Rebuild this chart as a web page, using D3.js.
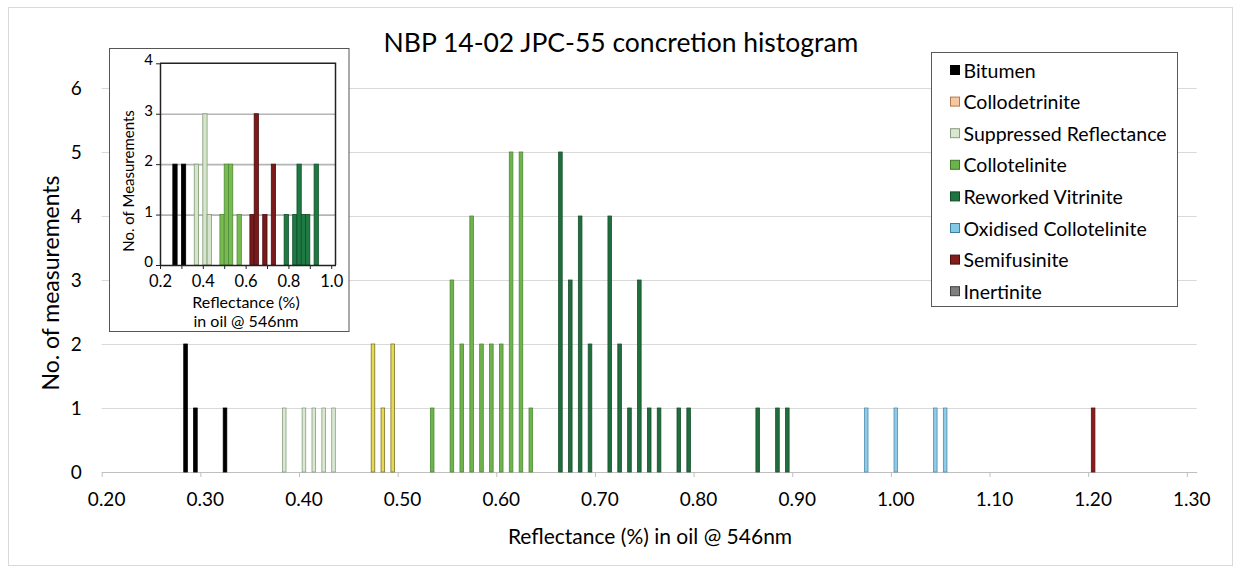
<!DOCTYPE html>
<html><head><meta charset="utf-8">
<script src="https://cdn.jsdelivr.net/npm/d3@7"></script>
<style>
body{margin:0;background:#fff}
svg{display:block}
text{font-family:Lato,"Open Sans",sans-serif;fill:#000}
</style>
</head><body>
<svg id="c" width="1236" height="573"></svg>
<script>
// ---------- main chart data (reflectance bin, count) ----------
const bitumenR = [0.28, 0.29, 0.32];
const bitumenN = [2, 1, 1];
const suppressedR = [0.38, 0.40, 0.41, 0.42, 0.43];
const suppressedN = [1, 1, 1, 1, 1];
const yellowR = [0.47, 0.48, 0.49];
const yellowN = [2, 1, 2];
const collotelR = [0.53, 0.55, 0.56, 0.57, 0.58, 0.59, 0.60, 0.61, 0.62, 0.63];
const collotelN = [1, 3, 2, 4, 2, 2, 2, 5, 5, 1];
const reworkedR = [0.66, 0.67, 0.68, 0.69, 0.71, 0.72, 0.73, 0.74, 0.75, 0.76, 0.78, 0.79, 0.86, 0.88, 0.89];
const reworkedN = [5, 3, 4, 2, 4, 2, 1, 3, 1, 1, 1, 1, 1, 1, 1];
const oxidisedR = [0.97, 1.00, 1.04, 1.05];
const oxidisedN = [1, 1, 1, 1];
const semifusR = [1.20];
const semifusN = [1];

const xTickLabels = ["0.20","0.30","0.40","0.50","0.60","0.70","0.80","0.90","1.00","1.10","1.20","1.30"];
const yTickLabels = [0, 1, 2, 3, 4, 5, 6];

// ---------- inset data ----------
const inBitumenR = [0.27, 0.31];
const inBitumenN = [2, 2];
const inSuppressedR = [0.37, 0.41, 0.43];
const inSuppressedN = [2, 3, 1];
const inCollotelR = [0.49, 0.51, 0.53, 0.57];
const inCollotelN = [1, 2, 2, 1];
const inSemifusR = [0.63, 0.65, 0.69, 0.73];
const inSemifusN = [1, 3, 1, 2];
const inReworkedR = [0.79, 0.83, 0.85, 0.87, 0.89, 0.93];
const inReworkedN = [1, 1, 2, 1, 1, 2];
const inXTicks = [0.2, 0.4, 0.6, 0.8, 1.0];
const inYTicks = [0, 1, 2, 3, 4];

// ---------- legend ----------
const legendNames = ["Bitumen","Collodetrinite","Suppressed Reflectance","Collotelinite","Reworked Vitrinite","Oxidised Collotelinite","Semifusinite","Inertinite"];
const legendFill = ["#000000","#f7c8a0","#d8e8cf","#6db24a","#1f7440","#83c8e4","#841c1c","#7f7f7f"];
const legendStroke = ["#000000","#b07850","#8a9a84","#3e7a2c","#0f4a26","#3d7f9e","#4a0c0c","#404040"];

const mainSeries = [
  {r: bitumenR, n: bitumenN, fill: "#000000", stroke: "#000000"},
  {r: suppressedR, n: suppressedN, fill: "#dae8d2", stroke: "#889e80"},
  {r: yellowR, n: yellowN, fill: "#e6da55", stroke: "#7a7228"},
  {r: collotelR, n: collotelN, fill: "#6fb34c", stroke: "#4d8a35"},
  {r: reworkedR, n: reworkedN, fill: "#206e3e", stroke: "#17502d"},
  {r: oxidisedR, n: oxidisedN, fill: "#8fcbe6", stroke: "#4f8fb0"},
  {r: semifusR, n: semifusN, fill: "#8a1c1c", stroke: "#5a1010"}
];
const insetSeries = [
  {r: inBitumenR, n: inBitumenN, fill: "#000000", stroke: "#000000"},
  {r: inSuppressedR, n: inSuppressedN, fill: "#d6e6cc", stroke: "#7f9a74"},
  {r: inCollotelR, n: inCollotelN, fill: "#78bb50", stroke: "#4f8a35"},
  {r: inSemifusR, n: inSemifusN, fill: "#7a1a1a", stroke: "#4a0d0d"},
  {r: inReworkedR, n: inReworkedN, fill: "#1e7a42", stroke: "#0f4f28"}
];

const svg = d3.select("#c");
svg.append("rect").attr("x",8.5).attr("y",7.5).attr("width",1224).attr("height",558)
  .attr("fill","#fff").attr("stroke","#d9d9d9");

// ---------- main scales ----------
const L = 101.7, R = 1196.7, T = 88, B = 472;
const cats = d3.range(111).map(i => ((20 + i) / 100).toFixed(2));
const x = d3.scaleBand().domain(cats).range([L, R]).padding(0);
const xEdge = d3.scaleLinear().domain([0.195, 1.305]).range([L, R]);
const y = d3.scaleLinear().domain([0, 6]).range([B, T]);

// gridlines
const grid = svg.append("g").attr("transform",`translate(${L},0)`)
  .call(d3.axisLeft(y).tickValues(yTickLabels.slice(1)).tickSize(-(R - L)).tickFormat(""));
grid.select(".domain").remove();
grid.selectAll("line").attr("stroke","#d9d9d9");

// y labels
const ya = svg.append("g").attr("transform",`translate(${L},0)`)
  .call(d3.axisLeft(y).tickValues(yTickLabels).tickFormat(d3.format("d")).tickSize(0).tickPadding(20));
ya.select(".domain").remove();
ya.selectAll("text").style("font-size","19px").attr("fill","#000");

// x axis line + ticks at category edges
const xt = svg.append("g").attr("transform",`translate(0,${B})`)
  .call(d3.axisBottom(xEdge).tickValues(d3.range(12).map(i => 0.195 + i * 0.1)).tickSize(5).tickFormat("").tickSizeOuter(0));
xt.select(".domain").attr("stroke","#bfbfbf");
xt.selectAll("line").attr("stroke","#bfbfbf");

// x labels at category centres
const xa = svg.append("g").attr("transform",`translate(0,${B})`)
  .call(d3.axisBottom(x).tickValues(xTickLabels).tickSize(0).tickPadding(21));
xa.select(".domain").remove();
xa.selectAll("text").style("font-size","19px").attr("fill","#000");

// bars
const bw = 3.6;
mainSeries.forEach(s => {
  svg.append("g").selectAll("rect").data(s.r.map((r, i) => ({k: r.toFixed(2), n: s.n[i]})))
    .join("rect")
    .attr("x", d => x(d.k) + x.bandwidth() / 2 - bw / 2)
    .attr("width", bw)
    .attr("y", d => y(d.n))
    .attr("height", d => y(0) - y(d.n))
    .attr("fill", s.fill).attr("stroke", s.stroke).attr("stroke-width", 0.8);
});

// titles
svg.append("text").attr("x",621).attr("y",42).attr("text-anchor","middle")
  .attr("dominant-baseline","central").style("font-size","26.5px")
  .text("NBP 14-02 JPC-55 concretion histogram");
svg.append("text").attr("transform","translate(50,283) rotate(-90)").attr("text-anchor","middle")
  .attr("dominant-baseline","central").style("font-size","23px").text("No. of measurements");
svg.append("text").attr("x",650).attr("y",535).attr("text-anchor","middle")
  .attr("dominant-baseline","central").style("font-size","21px").text("Reflectance (%) in oil @ 546nm");

// legend
const lg = svg.append("g");
lg.append("rect").attr("x",931.5).attr("y",52.5).attr("width",246).attr("height",254)
  .attr("fill","#fff").attr("stroke","#595959");
const li = lg.selectAll("g.it").data(legendNames).join("g").attr("class","it")
  .attr("transform",(d,i)=>`translate(950,${70 + i * 31.6})`);
li.append("rect").attr("x",0.5).attr("y",-4.5).attr("width",9).attr("height",9)
  .attr("fill",(d,i)=>legendFill[i]).attr("stroke",(d,i)=>legendStroke[i]);
li.append("text").attr("x",13.5).attr("y",0).attr("dominant-baseline","central")
  .style("font-size","19.5px").text(d=>d);

// ---------- inset ----------
const ins = svg.append("g");
ins.append("rect").attr("x",109.5).attr("y",48.5).attr("width",239.5).attr("height",283)
  .attr("fill","#fff").attr("stroke","#555");
const iL = 160, iR = 335.5, iT = 63.3, iB = 265;
const xi = d3.scaleLinear().domain([0.2, 1.02]).range([iL, iR]);
const yi = d3.scaleLinear().domain([0, 4]).range([iB, iT]);

const ig = ins.append("g").attr("transform",`translate(${iL},0)`)
  .call(d3.axisLeft(yi).tickValues([1,2,3]).tickSize(-(iR - iL)).tickFormat(""));
ig.select(".domain").remove();
ig.selectAll("line").attr("stroke","#b5b5b5").attr("stroke-width",1.6);

insetSeries.forEach(s => {
  ins.append("g").selectAll("rect").data(s.r.map((r, i) => ({r, n: s.n[i]})))
    .join("rect")
    .attr("x", d => xi(d.r - 0.01))
    .attr("width", d => xi(d.r + 0.01) - xi(d.r - 0.01))
    .attr("y", d => yi(d.n))
    .attr("height", d => yi(0) - yi(d.n))
    .attr("fill", s.fill).attr("stroke", s.stroke).attr("stroke-width", 0.8);
});

// plot border top/right
ins.append("path").attr("d",`M${iL},${iT}H${iR}V${iB}`).attr("fill","none").attr("stroke","#222").attr("stroke-width",1.5);

const iya = ins.append("g").attr("transform",`translate(${iL},0)`)
  .call(d3.axisLeft(yi).tickValues(inYTicks).tickFormat(d3.format("d")).tickSize(4).tickPadding(3).tickSizeOuter(0));
iya.select(".domain").attr("stroke","#222").attr("stroke-width",1.5);
iya.selectAll("line").attr("stroke","#222");
iya.selectAll("text").style("font-size","15px").attr("fill","#000").attr("dy","0.1em");

const ixa = ins.append("g").attr("transform",`translate(0,${iB})`)
  .call(d3.axisBottom(xi).tickValues(d3.range(9).map(i => 0.2 + i * 0.1)).tickSize(4).tickFormat("").tickSizeOuter(0));
ixa.select(".domain").attr("stroke","#222").attr("stroke-width",1.5);
ixa.selectAll("line").attr("stroke","#222");
const ixl = ins.append("g").attr("transform",`translate(0,${iB})`)
  .call(d3.axisBottom(xi).tickValues(inXTicks).tickSize(0).tickPadding(10).tickFormat(d3.format(".1f")));
ixl.select(".domain").remove();
ixl.selectAll("text").style("font-size","16.5px").attr("fill","#000");

ins.append("text").attr("transform","translate(128,181) rotate(-90)").attr("text-anchor","middle")
  .attr("dominant-baseline","central").style("font-size","15px").text("No. of Measurements");
ins.append("text").attr("x",246).attr("y",301).attr("text-anchor","middle")
  .attr("dominant-baseline","central").style("font-size","16px").text("Reflectance (%)");
ins.append("text").attr("x",246).attr("y",320).attr("text-anchor","middle")
  .attr("dominant-baseline","central").style("font-size","16px").text("in oil @ 546nm");
</script>
</body></html>
